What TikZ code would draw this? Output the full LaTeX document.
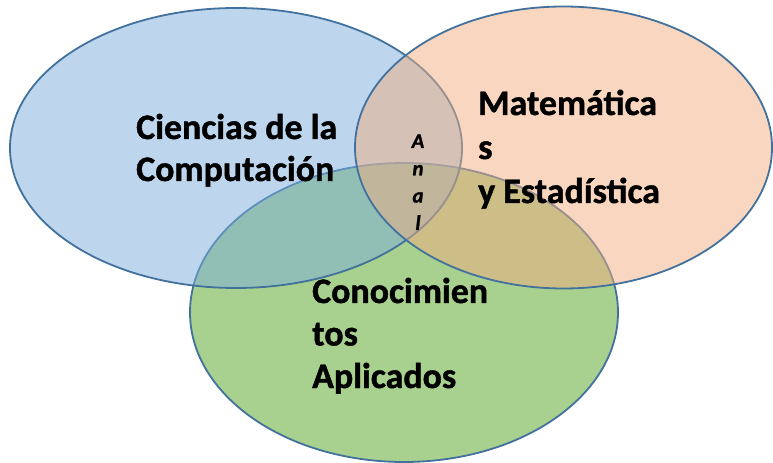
\documentclass[tikz,border=0pt]{standalone}
\usepackage{fontspec}
\setmainfont{Carlito}[BoldFeatures={FakeBold=1.2},BoldItalicFeatures={FakeBold=1.2}]
\definecolor{edgeblue}{RGB}{65,113,156}
\definecolor{fillblue}{RGB}{123,173,221}
\definecolor{fillorange}{RGB}{241,173,129}
\definecolor{fillgreen}{RGB}{110,177,67}
\tikzset{
  venn/.style={draw=edgeblue, line width=1.8bp},
  label/.style={inner sep=0pt, anchor=base west, font=\bfseries\fontsize{36}{42}\selectfont},
  anal/.style={inner sep=0pt, anchor=base, font=\bfseries\itshape\fontsize{21}{27}\selectfont}
}
\begin{document}
\begin{tikzpicture}[x=1bp,y=-1bp]
\useasboundingbox (0,0) rectangle (773,463);
% green first, then blue, then orange on top
\draw[venn, fill=fillgreen, fill opacity=0.6] (404,312.5) ellipse [x radius=214bp, y radius=149.5bp];
\draw[venn, fill=fillblue, fill opacity=0.5] (236,148) ellipse [x radius=226bp, y radius=140bp];
\draw[venn, fill=fillorange, fill opacity=0.5] (563.5,147.5) ellipse [x radius=208.5bp, y radius=141bp];
% labels
\node[label] (cc) at (136,139) {\vtop{\baselineskip=42bp\hbox{Ciencias de la}\hbox{Computación}}};
\node[label] (me) at (478,115) {\vtop{\baselineskip=44bp\hbox{Matemática}\hbox{s}\hbox{y Estadística}}};
\node[label] (ca) at (312,303) {\vtop{\baselineskip=42.5bp\hbox{Conocimien}\hbox{tos}\hbox{Aplicados}}};
\node[anal] (an) at (418,148) {\vtop{\baselineskip=27.3bp\halign{\hfil#\hfil\cr A\cr n\cr a\cr l\cr}}};
\end{tikzpicture}
\end{document}
